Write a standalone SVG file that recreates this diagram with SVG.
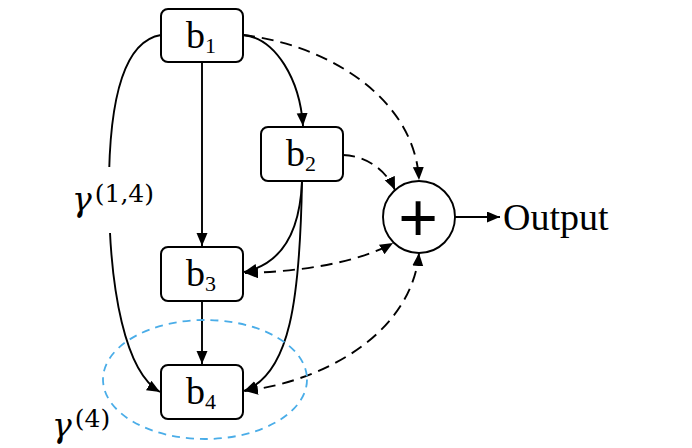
<svg xmlns="http://www.w3.org/2000/svg" width="692" height="448" viewBox="0 0 692 448">
<style>
.box{fill:#fff;stroke:#000;stroke-width:2}
.lbl{font-family:"Liberation Serif","Times New Roman",serif;font-size:38px;fill:#000}
.sub{font-size:22px}
.ln{fill:none;stroke:#000;stroke-width:1.9}
.dash{stroke-dasharray:12,7}
.gam{font-family:"DejaVu Serif",serif;fill:#000}
</style>
<defs>
<marker id="ah" markerWidth="14" markerHeight="12" refX="13" refY="5.5" orient="auto-start-reverse" markerUnits="userSpaceOnUse">
<path d="M0,0 L13,5.5 L0,11 z" fill="#000"/>
</marker>
</defs>
<rect width="692" height="448" fill="#fff"/>
<g id="connectors">
<path class="ln" d="M161,35 C118,42 108,120 109,200 C110,290 125,372 160,392" marker-end="url(#ah)"/>
<path class="ln" d="M202,62 L202,246" marker-end="url(#ah)"/>
<path class="ln" d="M202,301 L202,364" marker-end="url(#ah)"/>
<path class="ln" d="M243,35 C276,38 300,80 303,126" marker-end="url(#ah)"/>
<path class="ln" d="M302,181 C300,232 282,264 244,272" marker-end="url(#ah)"/>
<path class="ln" d="M302,181 C300,300 290,374 244,391" marker-end="url(#ah)"/>
<path class="ln dash" d="M243,35 C330,45 415,100 419,180" marker-end="url(#ah)"/>
<path class="ln dash" d="M343,155 C370,156 388,174 395,190" marker-end="url(#ah)"/>
<path class="ln dash" d="M245,273 C300,272 360,262 393,243" marker-start="url(#ah)" marker-end="url(#ah)"/>
<path class="ln dash" d="M245,391 C330,380 412,330 419,253" marker-start="url(#ah)" marker-end="url(#ah)"/>
<path class="ln" d="M455,217 L500,217" marker-end="url(#ah)"/>
</g>
<ellipse id="group4" cx="205" cy="379.5" rx="102" ry="59.5" fill="none" stroke="#4AADE8" stroke-width="1.8" stroke-dasharray="8,6"/>
<g id="b1">
<rect class="box" x="161" y="9" width="82" height="53" rx="7"/>
<text class="lbl" x="201" y="48" text-anchor="middle">b<tspan class="sub" dy="5">1</tspan></text>
</g>
<g id="b2">
<rect class="box" x="261" y="127" width="82" height="54" rx="7"/>
<text class="lbl" x="301" y="166" text-anchor="middle">b<tspan class="sub" dy="5">2</tspan></text>
</g>
<g id="b3">
<rect class="box" x="161" y="247" width="82" height="54" rx="7"/>
<text class="lbl" x="201" y="286" text-anchor="middle">b<tspan class="sub" dy="5">3</tspan></text>
</g>
<g id="b4">
<rect class="box" x="161" y="365" width="82" height="54" rx="7"/>
<text class="lbl" x="201" y="404" text-anchor="middle">b<tspan class="sub" dy="5">4</tspan></text>
</g>
<g id="sum">
<circle cx="419" cy="217" r="36" fill="#fff" stroke="#000" stroke-width="1.9"/>
<text x="418" y="241" text-anchor="middle" font-family="Liberation Sans, Arial, sans-serif" font-size="68" fill="#000">+</text>
</g>
<g id="output">
<text class="lbl" x="503" y="230" font-size="40">Output</text>
</g>
<g id="gamma14">
<rect x="70" y="167" width="92" height="66" fill="#fff"/>
<text class="gam" x="72" y="211" font-size="33" font-style="italic">γ<tspan font-style="normal" font-size="25" dx="3" dy="-9">(1,4)</tspan></text>
</g>
<g id="gamma4">
<text class="gam" x="52" y="437" font-size="33" font-style="italic">γ<tspan font-style="normal" font-size="25" dx="3" dy="-10">(4)</tspan></text>
</g>
</svg>
